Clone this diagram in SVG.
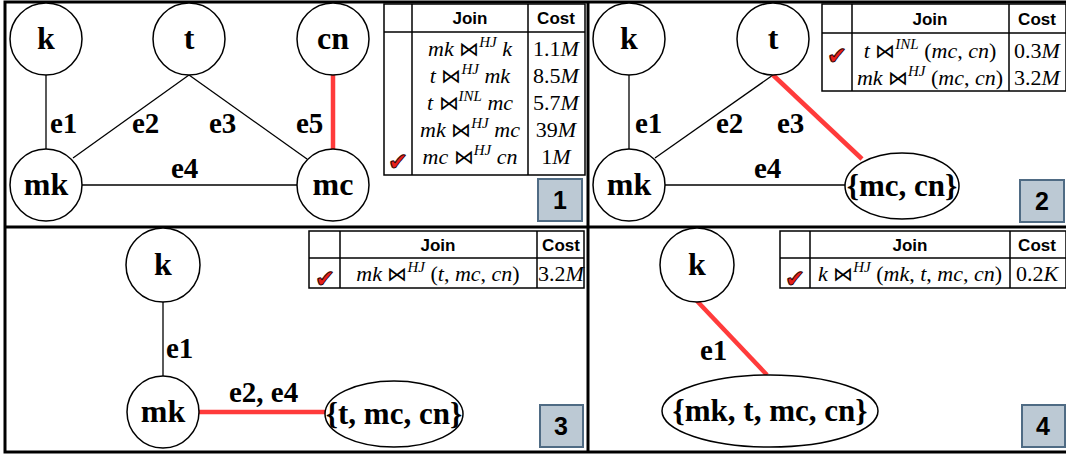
<svg xmlns="http://www.w3.org/2000/svg" width="1066" height="454" viewBox="0 0 1066 454">
<style>
.node{fill:#fff;stroke:#000;stroke-width:1.5}
.lbl{font-family:"Liberation Serif",serif;font-weight:bold;font-size:32px;text-anchor:middle;fill:#000}
.lbe{font-family:"Liberation Serif",serif;font-weight:bold;font-size:31px;text-anchor:middle;fill:#000}
.el{font-family:"Liberation Serif",serif;font-weight:bold;font-size:29px;fill:#000}
.edge{stroke:#000;stroke-width:1.3;fill:none}
.sel{stroke:#ff3b3b;stroke-width:4.5;fill:none}
.tbl{fill:#fff;stroke:#000;stroke-width:1.5}
.tl{stroke:#000;stroke-width:1.5}
.th{font-family:"Liberation Sans",Arial,sans-serif;font-weight:bold;font-size:17px;text-anchor:middle;fill:#000}
.m{font-family:"Liberation Serif",serif;font-size:22px;text-anchor:middle;fill:#000}
.c{font-family:"Liberation Serif",serif;font-size:22px;text-anchor:middle;fill:#000}
.i{font-style:italic}
.bt{font-family:"DejaVu Sans",sans-serif;font-size:20px;font-weight:lighter}
.sup{font-style:italic;font-size:15px}
.chk{font-family:"DejaVu Sans",sans-serif;font-size:24px;fill:#e8201c;stroke:#2a0000;stroke-width:1;text-anchor:middle}
.box{fill:#bcc9d4;stroke:#4f6b84;stroke-width:2}
.num{font-family:"Liberation Sans",Arial,sans-serif;font-weight:bold;font-size:25px;text-anchor:middle;fill:#000}
.frame{fill:none;stroke:#000;stroke-width:3}
</style>

<g id="frame">
<rect class="frame" x="5" y="2" width="1063" height="450"/>
<line class="frame" x1="588" y1="2" x2="588" y2="452"/>
<line class="frame" x1="5" y1="227" x2="1066" y2="227"/>
</g>

<!-- Panel 1 -->
<g id="p1-edges">
<line class="edge" x1="46" y1="75" x2="46" y2="149"/>
<line class="edge" x1="189" y1="75" x2="73" y2="158"/>
<line class="edge" x1="189" y1="75" x2="307" y2="159"/>
<line class="edge" x1="82" y1="185" x2="297" y2="185"/>
<line class="sel" x1="333" y1="75" x2="333" y2="149"/>
<text class="el" x="50" y="133">e1</text>
<text class="el" x="132" y="133">e2</text>
<text class="el" x="209" y="133">e3</text>
<text class="el" x="296" y="133">e5</text>
<text class="el" x="171" y="178">e4</text>
</g>
<g id="p1-k"><circle class="node" cx="46" cy="39" r="36"/><text class="lbl" x="46" y="49">k</text></g>
<g id="p1-t"><circle class="node" cx="189" cy="39" r="36"/><text class="lbl" x="189" y="49">t</text></g>
<g id="p1-cn"><circle class="node" cx="333" cy="39" r="36"/><text class="lbl" x="333" y="49">cn</text></g>
<g id="p1-mk"><circle class="node" cx="46" cy="185" r="36"/><text class="lbl" x="46" y="195">mk</text></g>
<g id="p1-mc"><circle class="node" cx="333" cy="185" r="36"/><text class="lbl" x="333" y="195">mc</text></g>
<g id="p1-table">
<rect class="tbl" x="384" y="4" width="201" height="171"/>
<line class="tl" x1="412" y1="4" x2="412" y2="175"/>
<line class="tl" x1="528" y1="4" x2="528" y2="175"/>
<line class="tl" x1="384" y1="32" x2="585" y2="32"/>
<text class="th" x="470" y="24">Join</text>
<text class="th" x="556" y="24">Cost</text>
<text class="m" x="470" y="56"><tspan class="i">mk</tspan> <tspan class="bt">⋈</tspan><tspan class="sup" dy="-9">HJ</tspan><tspan dy="9"> </tspan><tspan class="i">k</tspan></text>
<text class="m" x="470" y="83"><tspan class="i">t</tspan> <tspan class="bt">⋈</tspan><tspan class="sup" dy="-9">HJ</tspan><tspan dy="9"> </tspan><tspan class="i">mk</tspan></text>
<text class="m" x="470" y="110"><tspan class="i">t</tspan> <tspan class="bt">⋈</tspan><tspan class="sup" dy="-9">INL</tspan><tspan dy="9"> </tspan><tspan class="i">mc</tspan></text>
<text class="m" x="470" y="137"><tspan class="i">mk</tspan> <tspan class="bt">⋈</tspan><tspan class="sup" dy="-9">HJ</tspan><tspan dy="9"> </tspan><tspan class="i">mc</tspan></text>
<text class="m" x="470" y="164"><tspan class="i">mc</tspan> <tspan class="bt">⋈</tspan><tspan class="sup" dy="-9">HJ</tspan><tspan dy="9"> </tspan><tspan class="i">cn</tspan></text>
<text class="c" x="556" y="56">1.1<tspan class="i">M</tspan></text>
<text class="c" x="556" y="83">8.5<tspan class="i">M</tspan></text>
<text class="c" x="556" y="110">5.7<tspan class="i">M</tspan></text>
<text class="c" x="556" y="137">39<tspan class="i">M</tspan></text>
<text class="c" x="556" y="164">1<tspan class="i">M</tspan></text>
<text class="chk" x="398" y="170">✔</text>
</g>
<g id="p1-step"><rect class="box" x="538" y="179" width="44" height="42"/><text class="num" x="560" y="209">1</text></g>

<!-- Panel 2 -->
<g id="p2-edges">
<line class="edge" x1="629" y1="75" x2="629" y2="149"/>
<line class="edge" x1="773" y1="75" x2="655" y2="158"/>
<line class="edge" x1="665" y1="185" x2="845" y2="185"/>
<line class="sel" x1="773" y1="75" x2="862" y2="159"/>
<text class="el" x="635" y="133">e1</text>
<text class="el" x="716" y="133">e2</text>
<text class="el" x="777" y="133">e3</text>
<text class="el" x="754" y="178">e4</text>
</g>
<g id="p2-k"><circle class="node" cx="629" cy="39" r="36"/><text class="lbl" x="629" y="49">k</text></g>
<g id="p2-t"><circle class="node" cx="773" cy="39" r="36"/><text class="lbl" x="773" y="49">t</text></g>
<g id="p2-mk"><circle class="node" cx="629" cy="185" r="36"/><text class="lbl" x="629" y="195">mk</text></g>
<g id="p2-mccn"><ellipse class="node" cx="902" cy="186" rx="57" ry="33"/><text class="lbe" x="902" y="196">{mc, cn}</text></g>
<g id="p2-table">
<rect class="tbl" x="822" y="4" width="244" height="87"/>
<line class="tl" x1="852" y1="4" x2="852" y2="91"/>
<line class="tl" x1="1009" y1="4" x2="1009" y2="91"/>
<line class="tl" x1="822" y1="33" x2="1066" y2="33"/>
<text class="th" x="930" y="25">Join</text>
<text class="th" x="1037" y="25">Cost</text>
<text class="m" x="930" y="58"><tspan class="i">t</tspan> <tspan class="bt">⋈</tspan><tspan class="sup" dy="-9">INL</tspan><tspan dy="9"> (</tspan><tspan class="i">mc</tspan>, <tspan class="i">cn</tspan>)</text>
<text class="m" x="930" y="85"><tspan class="i">mk</tspan> <tspan class="bt">⋈</tspan><tspan class="sup" dy="-9">HJ</tspan><tspan dy="9"> (</tspan><tspan class="i">mc</tspan>, <tspan class="i">cn</tspan>)</text>
<text class="c" x="1037" y="58">0.3<tspan class="i">M</tspan></text>
<text class="c" x="1037" y="85">3.2<tspan class="i">M</tspan></text>
<text class="chk" x="837" y="64">✔</text>
</g>
<g id="p2-step"><rect class="box" x="1020" y="180" width="44" height="42"/><text class="num" x="1042" y="210">2</text></g>

<!-- Panel 3 -->
<g id="p3-edges">
<line class="edge" x1="163" y1="302" x2="163" y2="376"/>
<line class="sel" x1="199" y1="412" x2="325" y2="412"/>
<text class="el" x="166" y="358">e1</text>
<text class="el" x="229" y="402">e2, e4</text>
</g>
<g id="p3-k"><circle class="node" cx="163" cy="265" r="37"/><text class="lbl" x="163" y="275">k</text></g>
<g id="p3-mk"><circle class="node" cx="163" cy="412" r="36"/><text class="lbl" x="163" y="422">mk</text></g>
<g id="p3-tmccn"><ellipse class="node" cx="394" cy="414" rx="69" ry="33"/><text class="lbe" x="394" y="424">{t, mc, cn}</text></g>
<g id="p3-table">
<rect class="tbl" x="309" y="231" width="275" height="57"/>
<line class="tl" x1="340" y1="231" x2="340" y2="288"/>
<line class="tl" x1="537" y1="231" x2="537" y2="288"/>
<line class="tl" x1="309" y1="258" x2="584" y2="258"/>
<text class="th" x="438" y="251">Join</text>
<text class="th" x="561" y="251">Cost</text>
<text class="m" x="438" y="281"><tspan class="i">mk</tspan> <tspan class="bt">⋈</tspan><tspan class="sup" dy="-9">HJ</tspan><tspan dy="9"> (</tspan><tspan class="i">t</tspan>, <tspan class="i">mc</tspan>, <tspan class="i">cn</tspan>)</text>
<text class="c" x="561" y="281">3.2<tspan class="i">M</tspan></text>
<text class="chk" x="325" y="287">✔</text>
</g>
<g id="p3-step"><rect class="box" x="540" y="405" width="43" height="42"/><text class="num" x="561" y="435">3</text></g>

<!-- Panel 4 -->
<g id="p4-edges">
<line class="sel" x1="697" y1="301" x2="767" y2="375"/>
<text class="el" x="700" y="360">e1</text>
</g>
<g id="p4-k"><circle class="node" cx="697" cy="265" r="37"/><text class="lbl" x="697" y="275">k</text></g>
<g id="p4-all"><ellipse class="node" cx="770" cy="411" rx="108" ry="36"/><text class="lbe" x="770" y="421">{mk, t, mc, cn}</text></g>
<g id="p4-table">
<rect class="tbl" x="780" y="231" width="286" height="57"/>
<line class="tl" x1="810" y1="231" x2="810" y2="288"/>
<line class="tl" x1="1010" y1="231" x2="1010" y2="288"/>
<line class="tl" x1="780" y1="258" x2="1066" y2="258"/>
<text class="th" x="910" y="251">Join</text>
<text class="th" x="1037" y="251">Cost</text>
<text class="m" x="910" y="281"><tspan class="i">k</tspan> <tspan class="bt">⋈</tspan><tspan class="sup" dy="-9">HJ</tspan><tspan dy="9"> (</tspan><tspan class="i">mk</tspan>, <tspan class="i">t</tspan>, <tspan class="i">mc</tspan>, <tspan class="i">cn</tspan>)</text>
<text class="c" x="1037" y="281">0.2<tspan class="i">K</tspan></text>
<text class="chk" x="795" y="287">✔</text>
</g>
<g id="p4-step"><rect class="box" x="1022" y="405" width="43" height="42"/><text class="num" x="1043" y="435">4</text></g>
</svg>
